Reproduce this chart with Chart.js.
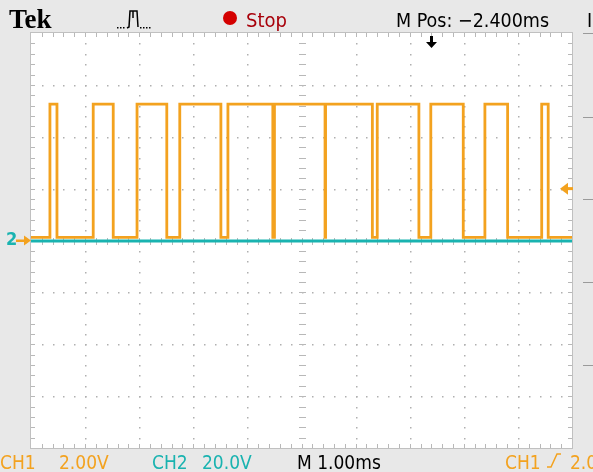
<!DOCTYPE html>
<html>
<head>
<meta charset="utf-8">
<script src="https://cdn.jsdelivr.net/npm/chart.js@4/dist/chart.umd.min.js"></script>
<style>
  html, body { margin: 0; padding: 0; background: #e8e8e8; }
  #wrap { width: 593px; height: 472px; position: relative; }
</style>
</head>
<body>
<div id="wrap"><canvas id="scope" width="593" height="472"></canvas></div>
<script>
// time in ms from screen centre (1.00 ms/div), level in divisions from centre
const ch1EdgeTimes = [-5, -4.65, -4.52, -3.85, -3.48, -3.04, -2.49, -2.25, -1.49, -1.36,
  -0.53, -0.50, 0.435, 0.445, 1.31, 1.40, 2.17, 2.39, 2.99, 3.39, 3.81, 4.44, 4.56, 5];
const ch1Levels = [0.06, 2.63, 0.06, 2.63, 0.06, 2.63, 0.06, 2.63, 0.06, 2.63,
  0.06, 2.63, 0.06, 2.63, 0.06, 2.63, 0.06, 2.63, 0.06, 2.63, 0.06, 2.63, 0.06, 0.06];
const ch2Times = [-5, 5];
const ch2Levels = [-0.01, -0.01];

const xDivs = [-5, 5];
const yDivs = [-4, 4];
const triggerPos = 2.4;     // M Pos -2.400ms -> trigger 2.4 div right of centre
const triggerLevel = 1.0;   // CH1 trigger level, divisions

const ORANGE = '#f3a21f';
const TEAL = '#19b3b0';
const NARROW = '"Liberation Sans Narrow", "DejaVu Sans Condensed", sans-serif';

const ch1Data = ch1EdgeTimes.map((t, i) => ({ x: t, y: ch1Levels[i] }));
const ch2Data = ch2Times.map((t, i) => ({ x: t, y: ch2Levels[i] }));

const graticule = {
  id: 'graticule',
  beforeDatasetsDraw(chart) {
    const { ctx, chartArea } = chart;
    const xs = chart.scales.x, ys = chart.scales.y;
    const { left, right, top, bottom } = chartArea;
    ctx.save();
    ctx.fillStyle = '#ffffff';
    ctx.fillRect(left, top, right - left, bottom - top);

    // dotted division lines
    ctx.fillStyle = '#b0b0b0';
    for (let d = yDivs[0] + 1; d < yDivs[1]; d++) {
      if (d === 0) continue;
      const py = Math.round(ys.getPixelForValue(d));
      for (let k = xDivs[0] * 5 + 1; k < xDivs[1] * 5; k++) {
        const px = Math.round(xs.getPixelForValue(k / 5));
        ctx.fillRect(px, py, 1.5, 1.5);
      }
    }
    for (let d = xDivs[0] + 1; d < xDivs[1]; d++) {
      if (d === 0) continue;
      const px = Math.round(xs.getPixelForValue(d));
      for (let k = yDivs[0] * 5 + 1; k < yDivs[1] * 5; k++) {
        const py = Math.round(ys.getPixelForValue(k / 5));
        ctx.fillRect(px, py, 1.5, 1.5);
      }
    }

    // centre cross with minor ticks, border ticks
    ctx.fillStyle = '#b8b8b8';
    const cx = Math.round(xs.getPixelForValue(0));
    const cy = Math.round(ys.getPixelForValue(0));
    for (let k = yDivs[0] * 5 + 1; k < yDivs[1] * 5; k++) {
      const py = Math.round(ys.getPixelForValue(k / 5));
      ctx.fillRect(cx - 3, py, 7, 1);
      ctx.fillRect(left, py, 4, 1);
      ctx.fillRect(right - 4, py, 4, 1);
    }
    for (let k = xDivs[0] * 5 + 1; k < xDivs[1] * 5; k++) {
      const px = Math.round(xs.getPixelForValue(k / 5));
      ctx.fillRect(px, cy - 3, 1, 7);
      ctx.fillRect(px, top, 1, 4);
      ctx.fillRect(px, bottom - 4, 1, 4);
    }
    ctx.strokeStyle = '#c0c0c0';
    ctx.lineWidth = 1;
    ctx.strokeRect(left - 0.5, top - 0.5, right - left + 1, bottom - top + 1);
    ctx.restore();
  },
  afterDatasetsDraw(chart) {
    const { ctx, chartArea } = chart;
    const xs = chart.scales.x, ys = chart.scales.y;
    const { left, right, top } = chartArea;
    ctx.save();

    // trigger position arrow
    const tx = Math.round(xs.getPixelForValue(triggerPos));
    ctx.fillStyle = '#000';
    ctx.fillRect(tx - 1, top + 3, 3, 7);
    ctx.beginPath();
    ctx.moveTo(tx - 5, top + 9);
    ctx.lineTo(tx + 6, top + 9);
    ctx.lineTo(tx + 0.5, top + 15);
    ctx.closePath();
    ctx.fill();

    // trigger level arrow
    const ly = ys.getPixelForValue(triggerLevel);
    ctx.fillStyle = ORANGE;
    ctx.beginPath();
    ctx.moveTo(right - 12, ly);
    ctx.lineTo(right - 4, ly - 6);
    ctx.lineTo(right - 4, ly + 6);
    ctx.closePath();
    ctx.fill();
    ctx.fillRect(right - 5, ly - 1.5, 6, 3);

    // ground marker
    const gy = ys.getPixelForValue(0);
    ctx.font = 'bold 18px ' + NARROW;
    ctx.fillStyle = TEAL;
    ctx.textBaseline = 'middle';
    ctx.fillText('2', 6, gy);
    ctx.fillStyle = ORANGE;
    ctx.fillRect(16, gy - 1, 12, 2.5);
    ctx.beginPath();
    ctx.moveTo(left, gy);
    ctx.lineTo(left - 7, gy - 5);
    ctx.lineTo(left - 7, gy + 5);
    ctx.closePath();
    ctx.fill();

    // header
    ctx.textBaseline = 'alphabetic';
    ctx.fillStyle = '#000';
    ctx.font = 'bold 27px "Liberation Serif", serif';
    ctx.fillText('Tek', 9, 28);

    // acquisition icon
    ctx.strokeStyle = '#000';
    ctx.lineWidth = 1.5;
    ctx.beginPath();
    ctx.moveTo(127, 28);
    ctx.lineTo(129, 27);
    ctx.lineTo(130, 11);
    ctx.lineTo(137, 11);
    ctx.lineTo(138, 27);
    ctx.stroke();
    ctx.beginPath();
    ctx.moveTo(133, 11);
    ctx.lineTo(133, 18);
    ctx.stroke();
    ctx.fillStyle = '#000';
    for (const dx of [117, 120, 123, 140, 143, 146, 149]) ctx.fillRect(dx, 27, 1.5, 1.5);

    ctx.fillStyle = '#d40000';
    ctx.beginPath();
    ctx.arc(230, 18, 7, 0, Math.PI * 2);
    ctx.fill();
    ctx.fillStyle = '#a8000a';
    ctx.font = '20px ' + NARROW;
    ctx.fillText('Stop', 246, 27);

    ctx.fillStyle = '#000';
    ctx.font = '19.5px ' + NARROW;
    ctx.fillText('M Pos: \u22122.400ms', 396, 27);
    ctx.fillText('I', 587, 27);

    // footer
    ctx.font = '19px ' + NARROW;
    ctx.fillStyle = ORANGE;
    ctx.fillText('CH1', 0, 469);
    ctx.fillText('2.00V', 59, 469);
    ctx.fillText('CH1', 505, 469);
    ctx.fillText('2.0', 570, 469);
    ctx.lineWidth = 1.5;
    ctx.strokeStyle = ORANGE;
    ctx.beginPath();
    ctx.moveTo(547, 467);
    ctx.lineTo(551, 467);
    ctx.lineTo(557, 454);
    ctx.lineTo(561, 454);
    ctx.stroke();
    ctx.fillStyle = TEAL;
    ctx.fillText('CH2', 152, 469);
    ctx.fillText('20.0V', 202, 469);
    ctx.fillStyle = '#000';
    ctx.fillText('M 1.00ms', 297, 469);

    // side menu separators
    ctx.fillStyle = '#9a9a9a';
    for (const sy of [33, 117, 199, 282, 365]) ctx.fillRect(583, sy, 10, 1);
    ctx.restore();
  }
};

new Chart(document.getElementById('scope'), {
  type: 'line',
  data: {
    datasets: [
      {
        label: 'CH2',
        data: ch2Data,
        borderColor: TEAL,
        borderWidth: 3,
        pointRadius: 0,
        stepped: 'before'
      },
      {
        label: 'CH1',
        data: ch1Data,
        borderColor: ORANGE,
        borderWidth: 2.8,
        pointRadius: 0,
        stepped: 'before'
      }
    ]
  },
  options: {
    responsive: false,
    animation: false,
    events: [],
    layout: { padding: { left: 31, right: 21, top: 33, bottom: 24 } },
    scales: {
      x: { type: 'linear', min: xDivs[0], max: xDivs[1], display: false },
      y: { type: 'linear', min: yDivs[0], max: yDivs[1], display: false }
    },
    plugins: {
      legend: { display: false },
      tooltip: { enabled: false }
    }
  },
  plugins: [graticule]
});
</script>
</body>
</html>
